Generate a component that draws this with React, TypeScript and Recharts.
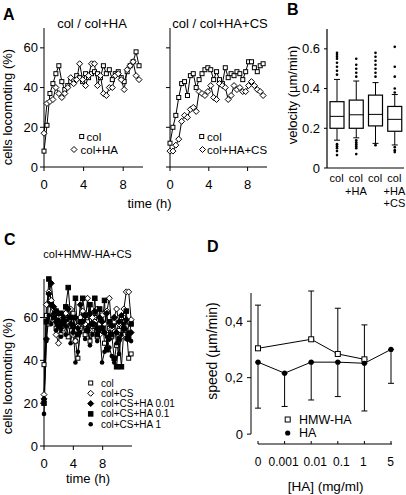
import React from 'react'
import { LineChart, Line, XAxis, YAxis, ComposedChart, Bar, ErrorBar } from 'recharts'

// panel A - time course, % locomoting cells
const timeA = [0, 0.3, 0.6, 0.9, 1.2, 1.5, 1.8, 2.1, 2.4, 2.7, 3, 3.3, 3.6, 3.9, 4.2, 4.5, 4.8, 5.1, 5.4, 5.7, 6, 6.3, 6.6, 6.9, 7.2, 7.5, 7.8, 8.1, 8.4, 8.7, 9, 9.3, 9.6]
const colA1 = [8, 21, 37, 42, 47, 51, 43, 39, 41, 43, 44, 46, 45, 43, 47, 45, 47, 48, 47, 45, 51, 47, 49, 44, 47, 48, 45, 43, 48, 51, 53, 58, 51]
const colHaA1 = [17, 32, 33, 34, 40, 37, 35, 37, 40, 45, 42, 44, 52, 44, 41, 46, 52, 52, 41, 46, 37, 36, 40, 40, 46, 47, 44, 39, 49, 51, 53, 46, 44]
const colA2 = [12, 20, 26, 35, 42, 43, 36, 46, 47, 40, 44, 47, 49, 50, 49, 44, 48, 44, 42, 50, 45, 47, 46, 48, 47, 44, 48, 53, 53, 50, 48, 51, 52]
const colHaCsA2 = [8, 8, 11, 14, 23, 26, 25, 29, 30, 28, 38, 37, 36, 38, 41, 35, 34, 42, 41, 40, 34, 36, 41, 39, 40, 38, 38, 41, 43, 41, 39, 38, 36]

// panel B - velocity box plots
const boxNames = ['b1', 'b2', 'b3', 'b4']
const boxLabels = [['col'], ['col', '+HA'], ['col'], ['col', '+HA', '+CS']]
const boxQ1 = [0.2, 0.2, 0.212, 0.185]
const boxMed = [0.26, 0.268, 0.27, 0.245]
const boxQ3 = [0.334, 0.342, 0.367, 0.31]
const boxWhiLo = [0.14, 0.152, 0.124, 0.116]
const boxWhiHi = [0.446, 0.438, 0.43, 0.37]
const boxOutliers = [
  [0.47, 0.49, 0.51, 0.53, 0.55, 0.56, 0.57, 0.58, 0.12, 0.11, 0.1, 0.085, 0.065],
  [0.46, 0.48, 0.5, 0.52, 0.55, 0.14, 0.13, 0.12, 0.11, 0.1, 0.07],
  [0.46, 0.48, 0.5, 0.52, 0.54, 0.56, 0.58, 0.115],
  [0.38, 0.4, 0.46, 0.51, 0.61, 0.105, 0.09, 0.08],
]

// panel C - col+HMW-HA+CS time course
const timeC = [0, 0.33, 0.66, 0.99, 1.32, 1.65, 1.98, 2.31, 2.64, 2.97, 3.3, 3.63, 3.96, 4.29, 4.62, 4.95, 5.28, 5.61, 5.94, 6.27, 6.6, 6.93, 7.26, 7.59, 7.92, 8.25, 8.58, 8.91, 9.24, 9.57, 9.9, 10.23, 10.56, 10.89, 11.22, 11.55, 11.88]
const colC = [38, 61, 57, 67, 61, 55, 60, 52, 58, 60, 51, 56, 62, 49, 41, 55, 60, 52, 58, 49, 54, 60, 51, 57, 62, 48, 45, 55, 51, 58, 47, 54, 60, 52, 56, 41, 43]
const colCsC = [24, 66, 72, 68, 64, 52, 48, 60, 55, 62, 57, 64, 52, 49, 56, 60, 63, 57, 69, 54, 60, 58, 64, 52, 61, 57, 63, 69, 55, 60, 64, 57, 51, 64, 72, 72, 59]
const ha001C = [22, 50, 71, 76, 65, 58, 62, 55, 60, 56, 64, 57, 53, 60, 55, 66, 58, 61, 54, 62, 57, 63, 55, 60, 58, 53, 62, 50, 56, 60, 53, 58, 61, 55, 59, 52, 53]
const ha01C = [20, 58, 78, 66, 60, 63, 56, 62, 58, 65, 74, 60, 56, 69, 52, 58, 69, 61, 54, 66, 57, 69, 52, 64, 55, 68, 45, 58, 52, 41, 37, 50, 37, 55, 63, 50, 57]
const ha1C = [15, 49, 61, 57, 62, 54, 59, 51, 57, 52, 60, 48, 56, 39, 44, 53, 58, 50, 55, 47, 52, 57, 49, 54, 39, 44, 51, 46, 42, 39, 48, 43, 52, 57, 50, 53, 49]

// panel D - speed vs HA concentration
const dCats = ['0', '0.001', '0.01', '0.1', '1', '5']
const hmwHa = [0.304, null, 0.336, 0.284, 0.265, null]
const hmwHaErrUp = [0.153, null, 0.171, 0.162, 0.122, null]
const haD = [0.255, 0.216, 0.255, 0.255, 0.251, 0.3]
const haErrDown = [0.163, 0.118, 0.134, 0.122, 0.169, 0.12]

const dataA1 = timeA.map((t, i) => ({ t, col: colA1[i], colHa: colHaA1[i] }))
const dataA2 = timeA.map((t, i) => ({ t, col: colA2[i], colHaCs: colHaCsA2[i] }))
const dataB = boxNames.map((name, i) => {
  const all = [...boxOutliers[i], boxWhiLo[i], boxWhiHi[i]]
  return {
    name,
    range: [Math.min(...all), Math.max(...all)],
    q1: boxQ1[i],
    med: boxMed[i],
    q3: boxQ3[i],
    lo: boxWhiLo[i],
    hi: boxWhiHi[i],
    out: boxOutliers[i],
  }
})
const dataC = timeC.map((t, i) => ({ t, col: colC[i], colCs: colCsC[i], h001: ha001C[i], h01: ha01C[i], h1: ha1C[i] }))
const dataD = dCats.map((c, i) => ({
  c,
  hmw: hmwHa[i],
  hmwErr: hmwHaErrUp[i] == null ? null : [0, hmwHaErrUp[i]],
  ha: haD[i],
  haErr: [haErrDown[i], 0],
}))

const K = '#000'
const tickFont = { fontSize: 13, fill: K }
// small horizontal nudges of the D tick labels, as set in the original figure
const dTickShift = [0, -1, 4, 3.5, -1, -0.5]

type M = { cx?: number; cy?: number; s?: number; fill?: string }
const Sq = ({ cx, cy, s = 4, fill = '#fff' }: M) => (
  <rect x={cx! - s / 2} y={cy! - s / 2} width={s} height={s} fill={fill} stroke={K} strokeWidth={1} />
)
const Dia = ({ cx, cy, s = 3, fill = '#fff' }: M) => (
  <polygon points={`${cx},${cy! - s} ${cx! + s},${cy} ${cx},${cy! + s} ${cx! - s},${cy}`} fill={fill} stroke={K} strokeWidth={1} />
)
const Circ = ({ cx, cy, s = 2.3 }: M) => <circle cx={cx} cy={cy} r={s} fill={K} />

const dot = (Shape: (p: M) => React.ReactElement, s?: number, fill?: string) => (p: any) => {
  if (p.cx == null || p.cy == null || p.value == null) return <g key={p.index} />
  return <g key={p.index}><Shape cx={p.cx} cy={p.cy} s={s} fill={fill} /></g>
}

const BoxShape = (props: any) => {
  const { x, y, width, height, payload } = props
  const [lo, hi] = payload.range
  const top = Math.min(y, y + height)
  const bot = Math.max(y, y + height)
  const py = (v: number) => bot - ((v - lo) / (hi - lo)) * (bot - top)
  const cx = x + width / 2
  return (
    <g>
      <line x1={cx} x2={cx} y1={py(payload.hi)} y2={py(payload.q3)} stroke={K} />
      <line x1={cx} x2={cx} y1={py(payload.q1)} y2={py(payload.lo)} stroke={K} />
      <line x1={cx - 3} x2={cx + 3} y1={py(payload.hi)} y2={py(payload.hi)} stroke={K} />
      <line x1={cx - 3} x2={cx + 3} y1={py(payload.lo)} y2={py(payload.lo)} stroke={K} />
      <rect x={x} y={py(payload.q3)} width={width} height={py(payload.q1) - py(payload.q3)} fill="#fff" stroke={K} strokeWidth={1.2} />
      <line x1={x} x2={x + width} y1={py(payload.med)} y2={py(payload.med)} stroke={K} />
      {payload.out.map((v: number, j: number) => (
        <circle key={j} cx={cx} cy={py(v)} r={1.3} fill={K} />
      ))}
    </g>
  )
}

const BoxTick = (props: any) => {
  const { x, y, payload } = props
  const lines = boxLabels[payload.index] || []
  return (
    <g>
      {lines.map((l, j) => (
        <text key={j} x={x} y={y + 14 + j * 12.5} textAnchor="middle" fontSize={11} fill={K}>{l}</text>
      ))}
    </g>
  )
}

const DTick = (props: any) => {
  const { x, y, payload } = props
  return (
    <text x={x + (dTickShift[payload.index] || 0)} y={y} dy="0.71em" textAnchor="middle" fontSize={12} fill={K}>
      {payload.value}
    </text>
  )
}

const pos = (left: number, top: number): React.CSSProperties => ({ position: 'absolute', left, top })

export default function App() {
  const yA = { domain: [0, 70] as [number, number], ticks: [0, 20, 40, 60], width: 44, tickSize: 4, tickMargin: 2, axisLine: { stroke: K }, tickLine: { stroke: K } }
  const xA = { type: 'number' as const, dataKey: 't', domain: [0, 10] as [number, number], ticks: [0, 4, 8], height: 33, tickSize: 4, tickMargin: 9, axisLine: { stroke: K }, tickLine: { stroke: K }, tick: tickFont }
  const lineP = { type: 'linear' as const, stroke: K, strokeWidth: 1, isAnimationActive: false, activeDot: false }

  return (
    <div style={{ position: 'absolute', left: 0, top: 0, width: 406, height: 495, background: '#fff', fontFamily: '"Liberation Sans", Arial, sans-serif', overflow: 'hidden' }}>
      <div style={pos(0, 0)}>
        <LineChart width={150} height={200} data={dataA1} margin={{ top: 28, right: 7, left: 0, bottom: 0 }}>
          <XAxis {...xA} />
          <YAxis {...yA} tick={tickFont} />
          <Line {...lineP} dataKey="col" dot={dot(Sq, 4)} />
          <Line {...lineP} dataKey="colHa" dot={dot(Dia, 3)} />
        </LineChart>
      </div>
      <div style={pos(126, 0)}>
        <LineChart width={150} height={200} data={dataA2} margin={{ top: 28, right: 9, left: 0, bottom: 0 }}>
          <XAxis {...xA} />
          <YAxis {...yA} tick={tickFont} tickFormatter={() => ''} />
          <Line {...lineP} dataKey="col" dot={dot(Sq, 4)} />
          <Line {...lineP} dataKey="colHaCs" dot={dot(Dia, 3)} />
        </LineChart>
      </div>
      <div style={pos(270, 0)}>
        <ComposedChart width={136} height={208} data={dataB} margin={{ top: 29, right: 2, left: 0, bottom: 0 }}>
          <XAxis dataKey="name" height={40} tickLine={false} tickSize={0} tickMargin={0} axisLine={{ stroke: K, strokeWidth: 1.2 }} tick={<BoxTick />} interval={0} />
          <XAxis xAxisId="top" dataKey="name" orientation="top" height={0} tick={false} tickLine={false} axisLine={{ stroke: K, strokeWidth: 1.2 }} />
          <YAxis domain={[0, 0.7]} ticks={[0, 0.2, 0.4, 0.6]} width={57} tickSize={3} tickMargin={4} tick={tickFont} axisLine={{ stroke: K, strokeWidth: 1.2 }} tickLine={{ stroke: K }} tickFormatter={(v: number) => (v === 0 ? '0' : String(v))} />
          <YAxis yAxisId="right" orientation="right" width={0} tick={false} tickLine={false} axisLine={{ stroke: K, strokeWidth: 1.2 }} />
          <Bar dataKey="range" barSize={14} shape={<BoxShape />} isAnimationActive={false} />
        </ComposedChart>
      </div>
      <div style={pos(0, 230)}>
        <LineChart width={140} height={249} data={dataC} margin={{ top: 49, right: 8, left: 0, bottom: 0 }}>
          <XAxis {...xA} domain={[0, 12]} />
          <YAxis {...yA} domain={[0, 78]} tick={tickFont} />
          <Line {...lineP} dataKey="col" dot={dot(Sq, 4)} />
          <Line {...lineP} dataKey="colCs" dot={dot(Dia, 3)} />
          <Line {...lineP} dataKey="h001" dot={dot(Dia, 3, K)} />
          <Line {...lineP} dataKey="h01" dot={dot(Sq, 4.5, K)} />
          <Line {...lineP} dataKey="h1" dot={dot(Circ, 2.3)} />
        </LineChart>
      </div>
      <div style={pos(200, 270)}>
        <LineChart width={206} height={225} data={dataD} margin={{ top: 23, right: 6, left: 0, bottom: 0 }}>
          <XAxis dataKey="c" padding={{ left: 7, right: 9 }} height={51} tickSize={-3} tickMargin={16} interval={0} tick={<DTick />} tickLine={{ stroke: K }} axisLine={{ stroke: K, strokeDasharray: '0 7 134 300' }} />
          <YAxis domain={[-0.035, 0.5]} ticks={[0, 0.2, 0.4]} width={51} tickSize={4} tickMargin={4} tick={tickFont} tickLine={{ stroke: K }} axisLine={{ stroke: K, strokeDasharray: '141 300' }} tickFormatter={(v: number) => (v === 0 ? '0' : v.toFixed(1).replace('.', ','))} allowDataOverflow />
          <Line {...lineP} dataKey="hmw" connectNulls dot={dot(Sq, 5)}>
            <ErrorBar dataKey="hmwErr" direction="y" width={3} stroke={K} strokeWidth={1} />
          </Line>
          <Line {...lineP} dataKey="ha" dot={dot(Circ, 2.6)}>
            <ErrorBar dataKey="haErr" direction="y" width={3} stroke={K} strokeWidth={1} />
          </Line>
        </LineChart>
      </div>

      <svg width={406} height={495} style={{ position: 'absolute', left: 0, top: 0, pointerEvents: 'none' }}>
        <g fontWeight="bold" fontSize={16} fill={K}>
          <text x={3} y={20}>A</text>
          <text x={287} y={14.5}>B</text>
          <text x={4} y={245}>C</text>
          <text x={207} y={252}>D</text>
        </g>
        <g fontSize={13} fill={K} dominantBaseline="central" textAnchor="middle">
          <text x={92} y={23}>col / col+HA</text>
          <text x={220} y={23}>col / col+HA+CS</text>
          <text x={149.5} y={203}>time (h)</text>
          <text transform="translate(7.5,107) rotate(-90)">cells locomoting (%)</text>
          <text transform="translate(292,95) rotate(-90)">velocity (µm/min)</text>
          <text transform="translate(7.5,376) rotate(-90)">cells locomoting (%)</text>
          <text x={88} y={478}>time (h)</text>
          <text fontSize={14} transform="translate(211.5,351) rotate(-90)">speed (µm/min)</text>
          <text fontSize={13.5} x={325.5} y={486}>[HA] (mg/ml)</text>
          <text fontSize={11} x={87.5} y={254}>col+HMW-HA+CS</text>
        </g>
        <g fontSize={11.5} fill={K} dominantBaseline="central">
          <Sq cx={81.7} cy={136.5} />
          <text x={86.5} y={136.5}>col</text>
          <Dia cx={74} cy={149.5} />
          <text x={80.5} y={149.5}>col+HA</text>
          <Sq cx={201.7} cy={136.5} />
          <text x={207} y={136.5}>col</text>
          <Dia cx={202.5} cy={149.5} />
          <text x={207} y={149.5}>col+HA+CS</text>
        </g>
        <g fontSize={10} fill={K} dominantBaseline="central">
          <Sq cx={90.7} cy={383} />
          <text x={101} y={383}>col</text>
          <Dia cx={90.7} cy={393.3} />
          <text x={101} y={393.3}>col+CS</text>
          <Dia cx={90.7} cy={403.6} fill={K} />
          <text x={101} y={403.6}>col+CS+HA 0.01</text>
          <Sq cx={90.7} cy={413.9} s={4.5} fill={K} />
          <text x={101} y={413.9}>col+CS+HA 0.1</text>
          <Circ cx={90.7} cy={424.2} />
          <text x={101} y={424.2}>col+CS+HA 1</text>
        </g>
        <g fontSize={12.5} fill={K} dominantBaseline="central">
          <Sq cx={287.7} cy={419.5} s={5} />
          <text x={299} y={419.5}>HMW-HA</text>
          <Circ cx={287.7} cy={433} s={2.6} />
          <text x={299} y={433}>HA</text>
        </g>
      </svg>
    </div>
  )
}
